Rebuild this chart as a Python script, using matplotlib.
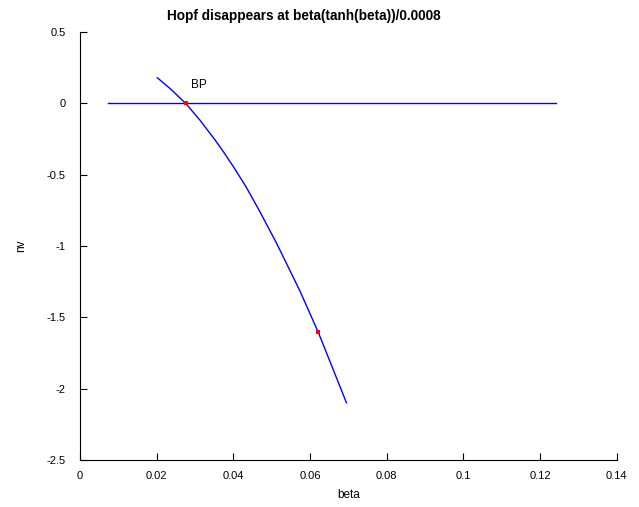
import matplotlib
matplotlib.use("Agg")
from matplotlib import pyplot as plt

plt.rcParams["font.family"] = ["Liberation Sans", "DejaVu Sans"]

# equilibrium branch
branch_beta = [0.0073, 0.1241]
branch_nv = [0.0, 0.0]

# Hopf curve
hopf_beta = [0.0202, 0.0237, 0.0276, 0.0313, 0.0352, 0.0376, 0.0400, 0.0433,
             0.04675, 0.05128, 0.05736, 0.0622, 0.0660, 0.06953]
hopf_nv = [0.180, 0.100, 0.0, -0.117, -0.254, -0.345, -0.442, -0.583,
           -0.749, -0.979, -1.313, -1.606, -1.861, -2.099]

# special points
sp_beta = [0.0276, 0.0622]
sp_nv = [0.0, -1.606]

fig = plt.figure(figsize=(6.39, 5.07), dpi=100)
ax = fig.add_axes([0.125, 0.0927, 0.840, 0.844])

ax.plot(branch_beta, branch_nv, color="blue", lw=1.0)
ax.plot(hopf_beta, hopf_nv, color="blue", lw=1.0)
ax.plot(sp_beta, sp_nv, "s", color="red", ms=2.2, mew=0)
ax.text(0.0290, 0.105, "BP", fontsize=8.5)

ax.set_xlim(0, 0.14)
ax.set_ylim(-2.5, 0.5)
ax.set_xticks([0, 0.02, 0.04, 0.06, 0.08, 0.1, 0.12, 0.14])
ax.set_xticklabels(["0", "0.02", "0.04", "0.06", "0.08", "0.1", "0.12", "0.14"])
ax.set_yticks([-2.5, -2, -1.5, -1, -0.5, 0, 0.5])
ax.set_yticklabels(["-2.5", "-2", "-1.5", "-1", "-0.5", "0", "0.5"])
ax.spines["top"].set_visible(False)
ax.spines["right"].set_visible(False)
ax.tick_params(direction="in", length=5, labelsize=8, pad=8)
ax.tick_params(axis="y", pad=10)
ax.set_xlabel("beta", fontsize=8.5, labelpad=6)
ax.set_ylabel("nv", fontsize=8.5, labelpad=14)
fig.text(304 / 639, 1 - 16 / 507, "Hopf disappears at beta(tanh(beta))/0.0008",
         fontsize=9.8, fontweight="bold", ha="center", va="center")

fig.savefig("out.png", dpi=100)
